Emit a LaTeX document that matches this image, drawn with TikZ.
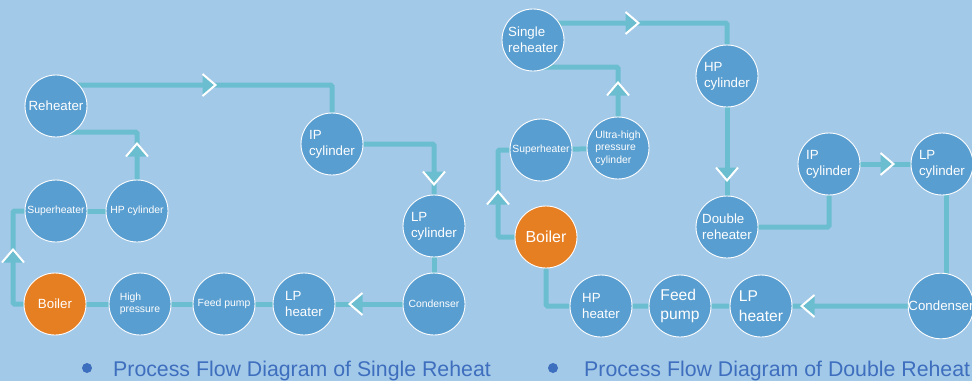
\documentclass[tikz,border=0pt]{standalone}
\usepackage{fontspec}
\setmainfont{Liberation Sans}
\pgfdeclarelayer{back}
\pgfdeclarelayer{pipes}
\pgfsetlayers{back,pipes,main}
\definecolor{skyback}{RGB}{163,201,232}
\definecolor{unitblue}{RGB}{89,158,208}
\definecolor{boilerorange}{RGB}{230,126,34}
\definecolor{pipeteal}{RGB}{107,190,208}
\definecolor{capblue}{RGB}{62,110,190}
\tikzset{
  flowtip/.pic={
    \fill[pipeteal] (-6.5,-11) -- (6.5,0) -- (-6.5,11) -- cycle;
    \draw[white, line width=2pt, miter limit=10] (-6.5,-11) -- (6.5,0) -- (-6.5,11);
  }
}
\begin{document}
\begin{tikzpicture}[x=1pt, y=-1pt,
  unit/.style={circle, draw=white, line width=0.9pt, fill=unitblue, minimum size=62pt, inner sep=0pt, text=white, align=left},
  furnace/.style={unit, fill=boilerorange},
  bigtxt/.style={font=\fontsize{13.3}{16}\selectfont},
  smalltxt/.style={font=\fontsize{10.4}{12.5}\selectfont},
  hugetxt/.style={font=\fontsize{15.6}{19.5}\selectfont},
  flowline/.style={pipeteal, line width=5pt, rounded corners=1.5pt},
  caption/.style={anchor=base west, inner sep=0pt, text=capblue, font=\fontsize{21.3}{25}\selectfont}]
  \begin{pgfonlayer}{back}
    \fill[skyback] (0,0) rectangle (972,381);
  \end{pgfonlayer}
  \useasboundingbox (0,0) rectangle (972,381);

  % single reheat
  \node[furnace, bigtxt] (boilerL) at (55,304) {Boiler};
  \node[unit, smalltxt] (hpressL) at (140,304) {High\\pressure};
  \node[unit, smalltxt] (feedL) at (224,304) {Feed pump};
  \node[unit, bigtxt] (lpheatL) at (304,304) {LP\\heater};
  \node[unit, smalltxt] (condL) at (434,304) {Condenser};
  \node[unit, bigtxt] (lpcylL) at (434,226) {LP\\cylinder};
  \node[unit, bigtxt] (ipcylL) at (332,144) {IP\\cylinder};
  \node[unit, bigtxt] (reheatL) at (56,106) {Reheater};
  \node[unit, smalltxt] (superL) at (56,211) {Superheater};
  \node[unit, smalltxt] (hpcylL) at (137,211) {HP cylinder};

  % double reheat
  \node[furnace, font=\fontsize{16}{19}\selectfont] (boilerR) at (546,237) {Boiler};
  \node[unit, smalltxt] (superR) at (541,150) {Superheater};
  \node[unit, smalltxt] (uhpR) at (618,148) {Ultra-high\\pressure\\cylinder};
  \node[unit, bigtxt] (sreheatR) at (533,40) {Single\\reheater};
  \node[unit, bigtxt] (hpcylR) at (727,76) {HP\\cylinder};
  \node[unit, bigtxt] (dreheatR) at (727,227) {Double\\reheater};
  \node[unit, bigtxt] (ipcylR) at (829,164) {IP\\cylinder};
  \node[unit, bigtxt] (lpcylR) at (942,164) {LP\\cylinder};
  \node[unit, bigtxt] (condR) at (941,306) {Condenser};
  \node[unit, hugetxt] (lpheatR) at (761,306) {LP\\heater};
  \node[unit, hugetxt] (feedR) at (680,306) {Feed\\pump};
  \node[unit, bigtxt] (hpheatR) at (601,306) {HP\\heater};

  \coordinate (bendA) at (13,304);
  \coordinate (bendB) at (137,132);
  \coordinate (bendC) at (332,85);
  \coordinate (bendD) at (498,237);
  \coordinate (bendE) at (618,67);
  \coordinate (bendF) at (727,23);
  \coordinate (bendG) at (946,164);

  \begin{pgfonlayer}{pipes}
    \draw[flowline] (boilerL) -- (bendA) |- (superL);
    \draw[flowline] (superL) -- (hpcylL);
    \draw[flowline] (hpcylL) -- (bendB) -- (bendB -| reheatL);
    \draw[flowline] (bendC -| reheatL) -- (bendC) -- (ipcylL);
    \draw[flowline] (ipcylL) -| (lpcylL);
    \draw[flowline] (lpcylL) -- (condL);
    \draw[flowline] (condL) -- (lpheatL) -- (feedL) -- (hpressL) -- (boilerL);

    \draw[flowline] (boilerR) -- (bendD) |- (superR);
    \draw[flowline] (superR) -- (uhpR);
    \draw[flowline] (uhpR) -- (bendE) -- (bendE -| sreheatR);
    \draw[flowline] (bendF -| sreheatR) -- (bendF) -- (hpcylR);
    \draw[flowline] (hpcylR) -- (dreheatR);
    \draw[flowline] (dreheatR) -| (ipcylR);
    \draw[flowline] (ipcylR) -- (lpcylR);
    \draw[flowline] (bendG) -- (bendG |- condR);
    \draw[flowline] (condR) -- (lpheatR) -- (feedR) -- (hpheatR) -| (boilerR);
  \end{pgfonlayer}

  \pic[rotate=90] at (13,256) {flowtip};
  \pic[rotate=90] at (137,150) {flowtip};
  \pic at (209,85) {flowtip};
  \pic[rotate=-90] at (434,178) {flowtip};
  \pic[rotate=180] at (356,304) {flowtip};

  \pic[rotate=90] at (498,198) {flowtip};
  \pic[rotate=90] at (618,89) {flowtip};
  \pic at (632,23) {flowtip};
  \pic[rotate=-90] at (727,174) {flowtip};
  \pic at (887,164) {flowtip};
  \pic[rotate=180] at (808,306) {flowtip};

  \node[circle, fill=capblue, minimum size=10pt, inner sep=0pt] (dotL) at (87,368) {};
  \node[caption] (capL) at (113,376) {Process Flow Diagram of Single Reheat};
  \node[circle, fill=capblue, minimum size=10pt, inner sep=0pt] (dotR) at (553,368) {};
  \node[caption] (capR) at (584,376) {Process Flow Diagram of Double Reheat};
\end{tikzpicture}
\end{document}
